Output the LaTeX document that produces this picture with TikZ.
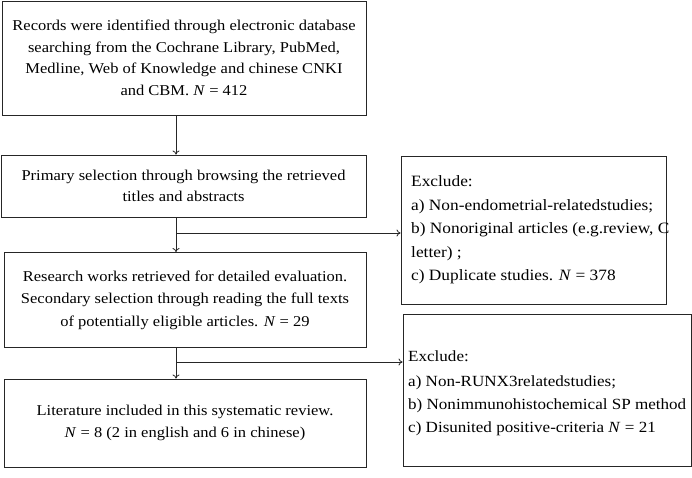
\documentclass[tikz,border=0pt]{standalone}
\usepackage{fontspec}
\setmainfont{Liberation Serif}[FakeStretch=1.1]
\usetikzlibrary{arrows.meta}
\begin{document}
\begin{tikzpicture}[x=1pt,y=-1pt,
  box/.style={draw=black!85,line width=1pt,inner sep=0pt,align=center,font=\fontsize{15}{21.5}\selectfont},
  extext/.style={anchor=north west,inner sep=0pt,align=left},
  conn/.style={draw=black!85,line width=0.8pt,-{To[length=4pt,width=7pt]}}]
\useasboundingbox (0,0) rectangle (692,477);
\node[box,minimum width=364pt,minimum height=114pt] (b1) at (184,58)
  {Records were identified through electronic database\\searching from the Cochrane Library, PubMed,\\Medline, Web of Knowledge and chinese CNKI\\and CBM. \textit{N} = 412};
\node[box,minimum width=365pt,minimum height=62pt] (b2) at (183.5,186)
  {Primary selection through browsing the retrieved\\titles and abstracts};
\node[box,minimum width=362pt,minimum height=95pt,font=\fontsize{15}{22.5}\selectfont] (b3) at (185,300)
  {Research works retrieved for detailed evaluation.\\Secondary selection through reading the full texts\\of potentially eligible articles. \textit{N} = 29};
\node[box,minimum width=362pt,minimum height=88pt] (b4) at (185,423)
  {Literature included in this systematic review.\\\textit{N} = 8 (2 in english and 6 in chinese)};
\node[box,minimum width=265pt,minimum height=148pt] (e1) at (533.5,230) {};
\node[box,minimum width=288pt,minimum height=152pt] (e2) at (547,390) {};
\node[extext,font=\fontsize{15.75}{23.5}\selectfont] (t1) at (411,175.4)
  {Exclude:\\a) Non-endometrial-relatedstudies;\\b) Nonoriginal articles (e.g.review, C\\letter) ;\\c) Duplicate studies. \textit{N} = 378};
\node[extext,font=\fontsize{15.5}{23}\selectfont] (t2) at (408,351)
  {Exclude:\\[2pt]a) Non-RUNX3relatedstudies;\\b) Nonimmunohistochemical SP method\\c) Disunited positive-criteria \textit{N} = 21};
\coordinate (a) at (176,0);
\coordinate (j1) at (176,233);
\coordinate (j2) at (176,362);
\draw[conn] (b1.south -| a) -- (b2.north -| a);
\draw[conn] (b2.south -| a) -- (b3.north -| a);
\draw[conn] (b3.south -| a) -- (b4.north -| a);
\draw[conn] (j1) -- (e1.west |- j1);
\draw[conn] (j2) -- (e2.west |- j2);
\end{tikzpicture}
\end{document}
